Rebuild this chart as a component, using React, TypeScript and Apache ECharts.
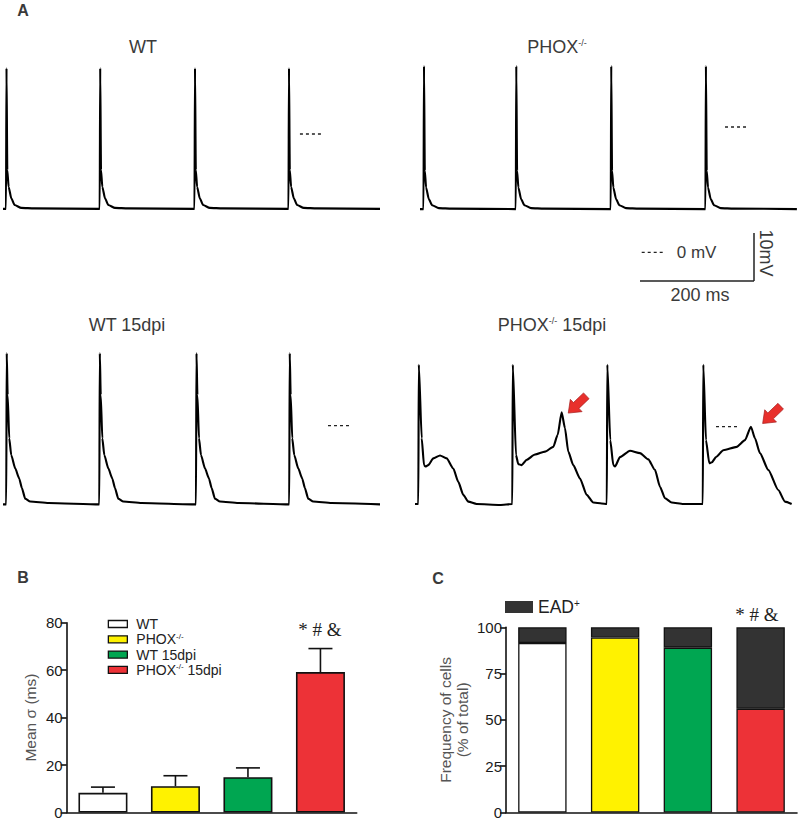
import React, { useEffect, useRef } from "react";
import * as echarts from "echarts";

// ---------- scale (from the 200 ms / 10 mV scale bar) ----------
const PX_PER_MS = 114 / 200;
const PX_PER_MV = 48 / 10;

// ---------- Panel A: traces (time in ms, voltage in mV) ----------
// WT
const WT_START = 5.3;
const WT_END = 666.7;
const WT_BASE = -15.6;
const WT_ONSETS = [10.5, 174.9, 341.2, 506.1];
const WT_BEAT = [[0, -15.6], [0.9, 13.7], [2.3, -7.5], [4.6, -11.0], [9.3, -13.4], [15.1, -14.8], [26.8, -15.4], [49.6, -15.5]];
const WT_ZERO = [526.2, 564.8];

// PHOX-/-
const PHOX_START = 35.1;
const PHOX_END = 696.3;
const PHOX_BASE = -17.1;
const PHOX_ONSETS = [41.2, 203.1, 369.7, 535.8];
const PHOX_BEAT = [[0, -17.1], [0.9, 12.7], [2.3, -9.1], [4.6, -12.6], [9.3, -15.0], [15.1, -16.3], [26.8, -16.9], [49.6, -17.0]];
const PHOX_ZERO = [570.2, 608.8];

// WT 15dpi
const WT15_START = 5.3;
const WT15_END = 666.7;
const WT15_BASE = -16.4;
const WT15_ONSETS = [10.9, 174.2, 343.8, 507.4];
const WT15_BEAT = [[0, -16.4], [0.9, 15.1], [2.5, 6.4], [5.3, -2.6], [8.8, -6.1], [15.8, -8.9], [22.8, -11.0], [27.5, -13.0], [33.3, -15.2], [42.1, -15.8], [74.4, -16.1]];
const WT15_ZERO = [575.4, 617.5];

// PHOX-/- 15dpi (each beat read separately)
const PHOX15_START = 26.3;
const PHOX15_END = 687.1;
const PHOX15_BASE = -16.1;
const PHOX15_ONSETS = [32.1, 197.0, 362.8, 531.2];
const PHOX15_BEAT1 = [[0, -16.1], [0.9, 12.9], [6.0, -2.4], [10.0, -8.0], [12.6, -8.3], [17.5, -8.0], [26.3, -6.6], [38.1, -6.0], [49.8, -6.6], [61.4, -8.7], [70.2, -11.5], [78.9, -14.2], [87.7, -15.6], [102.4, -16.1], [143.3, -16.3]];
const PHOX15_BEAT2 = [[0, -16.1], [0.9, 12.9], [6.5, -5.9], [10.5, -7.8], [16.5, -8.0], [25.3, -6.9], [39.8, -5.8], [57.4, -5.2], [71.9, -4.2], [79.6, -1.7], [86.6, 3.0], [92.4, -0.3], [98.2, -5.2], [107.0, -8.0], [118.8, -10.8], [130.5, -14.2], [142.1, -15.8], [156.8, -16.0]];
const PHOX15_BEAT3 = [[0, -16.1], [0.9, 12.9], [6.1, -2.8], [11.4, -8.0], [14.4, -8.3], [23.2, -6.3], [40.7, -5.0], [58.2, -5.5], [72.8, -6.8], [84.5, -9.0], [93.3, -12.5], [102.1, -14.9], [113.8, -15.8], [134.2, -16.1]];
const PHOX15_BEAT4 = [[0, -16.1], [0.9, 12.9], [5.6, -2.8], [11.4, -7.6], [16.1, -7.4], [23.2, -6.3], [36.0, -4.9], [59.5, -4.2], [74.0, -2.8], [84.5, 0], [91.5, -2.4], [100.3, -5.5], [114.9, -9.0], [132.4, -13.2], [144.2, -15.6], [155.9, -16.1]];
const PHOX15_ZERO = [554.4, 591.7];
// EAD peaks marked by red arrows [time ms, mV]
const EAD_PEAKS = [[283.6, 3.0], [615.7, 0]];

// ---------- Panel B ----------
const CATEGORIES = ["WT", "PHOX-/-", "WT 15dpi", "PHOX-/- 15dpi"];
const MEAN_SIGMA = [8.3, 11.1, 14.9, 59.2];
const SEM_SIGMA = [2.4, 4.4, 3.9, 9.9];
const B_TICKS = { min: 0, max: 80, interval: 20 };

// ---------- Panel C ----------
const NON_EAD = [91.5, 94.5, 89, 56];
const EAD_POS = [8.5, 5.5, 11, 44];
const C_TICKS = { min: 0, max: 100, interval: 25 };

const COLORS = ["#FFFFFF", "#FFF200", "#00A651", "#ED3237"];
const EAD_COLOR = "#333333";
const FONT = '"Liberation Sans", Arial, sans-serif';
const SERIF = '"Liberation Serif", "Times New Roman", serif';

const TRACE_GRIDS = [
  { left: 0, top: 50, width: 400, height: 180, zeroY: 134 },
  { left: 400, top: 50, width: 400, height: 180, zeroY: 127 },
  { left: 0, top: 340, width: 400, height: 180, zeroY: 425.7 },
  { left: 400, top: 340, width: 400, height: 180, zeroY: 426.7 },
];

function buildTrace(start: number, end: number, base: number, onsets: number[], beats: number[][][]) {
  const pts: number[][] = [[start, base]];
  onsets.forEach((o, i) => {
    beats[i].forEach(([t, v]) => pts.push([o + t, v]));
  });
  pts.push([end, base]);
  return pts;
}

function txt(id: string, text: string, x: number, y: number, size: number, opts: any = {}) {
  return {
    type: "text",
    id,
    x,
    y,
    rotation: opts.rotation || 0,
    style: {
      text,
      font: `${opts.bold ? "bold " : ""}${size}px ${opts.family || FONT}`,
      fill: opts.color || "#3a3a3a",
      align: opts.align || "center",
      textAlign: opts.align || "center",
      verticalAlign: "middle",
      textVerticalAlign: "middle",
      rich: opts.rich,
    },
  };
}

export default function App() {
  const ref = useRef<HTMLDivElement>(null);

  useEffect(() => {
    if (!ref.current) return;
    const chart = echarts.init(ref.current, null, { renderer: "svg" });

    const traces = [
      buildTrace(WT_START, WT_END, WT_BASE, WT_ONSETS, [WT_BEAT, WT_BEAT, WT_BEAT, WT_BEAT]),
      buildTrace(PHOX_START, PHOX_END, PHOX_BASE, PHOX_ONSETS, [PHOX_BEAT, PHOX_BEAT, PHOX_BEAT, PHOX_BEAT]),
      buildTrace(WT15_START, WT15_END, WT15_BASE, WT15_ONSETS, [WT15_BEAT, WT15_BEAT, WT15_BEAT, WT15_BEAT]),
      buildTrace(PHOX15_START, PHOX15_END, PHOX15_BASE, PHOX15_ONSETS, [PHOX15_BEAT1, PHOX15_BEAT2, PHOX15_BEAT3, PHOX15_BEAT4]),
    ];
    const zeros = [WT_ZERO, PHOX_ZERO, WT15_ZERO, PHOX15_ZERO];

    const grids: any[] = TRACE_GRIDS.map((g) => ({ left: g.left, top: g.top, width: g.width, height: g.height }));
    grids.push({ left: 66.7, top: 622.7, width: 290, height: 192.3 });
    grids.push({ left: 506, top: 627.3, width: 291, height: 185.4 });

    const xAxes: any[] = TRACE_GRIDS.map((g, i) => ({
      type: "value", gridIndex: i, show: false, min: 0, max: g.width / PX_PER_MS,
    }));
    const yAxes: any[] = TRACE_GRIDS.map((g, i) => ({
      type: "value", gridIndex: i, show: false,
      min: -(g.top + g.height - g.zeroY) / PX_PER_MV,
      max: (g.zeroY - g.top) / PX_PER_MV,
    }));

    const catAxis = (gi: number) => ({
      type: "category", gridIndex: gi, data: CATEGORIES,
      axisLine: { show: true, lineStyle: { color: "#111", width: 1.6 } },
      axisTick: { show: false }, axisLabel: { show: false }, splitLine: { show: false },
    });
    xAxes.push(catAxis(4));
    xAxes.push(catAxis(5));

    const valAxis = (gi: number, t: any, name: string, nameGap: number) => ({
      type: "value", gridIndex: gi, min: t.min, max: t.max, interval: t.interval,
      axisLine: { show: true, lineStyle: { color: "#111", width: 1.6 } },
      axisTick: { show: true, length: 6, lineStyle: { color: "#111", width: 1.6 } },
      axisLabel: { fontSize: 15, color: "#1a1a1a", margin: 4, fontFamily: FONT },
      splitLine: { show: false },
      name, nameLocation: "middle", nameGap,
      nameTextStyle: { fontSize: 15.5, color: "#555", fontFamily: FONT, lineHeight: 17 },
    });
    yAxes.push(valAxis(4, B_TICKS, "Mean σ (ms)", 27.5));
    yAxes.push(valAxis(5, C_TICKS, "Frequency of cells\n(% of total)", 35));

    const series: any[] = [];
    traces.forEach((data, i) => {
      series.push({
        type: "line", xAxisIndex: i, yAxisIndex: i, data, symbol: "none", silent: true,
        smooth: 0.2, smoothMonotone: "x",
        lineStyle: { color: "#000", width: 2.1 },
      });
      series.push({
        type: "line", xAxisIndex: i, yAxisIndex: i, symbol: "none", silent: true,
        data: [[zeros[i][0], 0], [zeros[i][1], 0]],
        lineStyle: { color: "#222", width: 1.3, type: [3, 3] },
      });
    });

    // red arrows at EAD peaks
    const ARROW_SHAPE = [[0, 0], [-11, -8.5], [-11, -4], [-25, -4], [-25, 4], [-11, 4], [-11, 8.5]];
    const ARROW_OFFSETS = [[6.6, 0.8], [11.7, -3.2]];
    series.push({
      type: "custom", xAxisIndex: 3, yAxisIndex: 3, silent: true, clip: false, z: 5,
      data: EAD_PEAKS,
      renderItem: (params: any, api: any) => {
        const p = api.coord([api.value(0), api.value(1)]);
        const off = ARROW_OFFSETS[params.dataIndex];
        const tip = [p[0] + off[0], p[1] + off[1]];
        const th = Math.atan2(0.69, -0.72);
        const c = Math.cos(th), s = Math.sin(th);
        const pts = ARROW_SHAPE.map(([x, y]) => [tip[0] + x * c - y * s, tip[1] + x * s + y * c]);
        return {
          type: "polygon",
          shape: { points: pts },
          style: { fill: "#E8302C", stroke: "#A51E1E", lineWidth: 0.7 },
        };
      },
    });

    // Panel B bars
    CATEGORIES.forEach((c, i) => {
      series.push({
        type: "bar", name: c, xAxisIndex: 4, yAxisIndex: 4,
        data: MEAN_SIGMA.map((v, j) => (j === i ? v : "-")),
        barWidth: 49, barGap: "-100%",
        itemStyle: { color: COLORS[i], borderColor: "#111", borderWidth: 1.6 },
      });
    });
    series.push({
      type: "custom", xAxisIndex: 4, yAxisIndex: 4, silent: true, z: 4,
      data: MEAN_SIGMA.map((m, i) => [i, m, SEM_SIGMA[i]]),
      renderItem: (params: any, api: any) => {
        const base = api.coord([api.value(0), api.value(1)]);
        const top = api.coord([api.value(0), api.value(1) + api.value(2)]);
        const st = { stroke: "#111", lineWidth: 1.6 };
        return {
          type: "group",
          children: [
            { type: "line", shape: { x1: base[0], y1: base[1], x2: top[0], y2: top[1] }, style: st },
            { type: "line", shape: { x1: top[0] - 12, y1: top[1], x2: top[0] + 12, y2: top[1] }, style: st },
          ],
        };
      },
    });

    // Panel C stacked bars
    series.push({
      type: "bar", name: "EAD-", xAxisIndex: 5, yAxisIndex: 5, stack: "c", barWidth: 48.4,
      data: NON_EAD.map((v, i) => ({ value: v, itemStyle: { color: COLORS[i] } })),
      itemStyle: { borderColor: "#111", borderWidth: 1.3 },
    });
    series.push({
      type: "bar", name: "EAD+", xAxisIndex: 5, yAxisIndex: 5, stack: "c", barWidth: 48.4,
      data: EAD_POS,
      itemStyle: { color: EAD_COLOR, borderColor: "#111", borderWidth: 1.3 },
    });

    const supRich = { sup: { fontSize: 8, verticalAlign: "top", lineHeight: 12, fontFamily: FONT, color: "#222" } };
    const scaleLen = 200 * PX_PER_MS;
    const scaleH = 10 * PX_PER_MV;
    const sbX = 754, sbY = 281;
    const titleSup = { s: { fontSize: 9, verticalAlign: "top", lineHeight: 18, fill: "#3a3a3a", fontFamily: FONT } };

    const graphic: any[] = [
      txt("lA", "A", 23, 10, 16, { bold: true }),
      txt("lB", "B", 23, 577, 16, { bold: true }),
      txt("lC", "C", 438, 578, 16, { bold: true }),
      txt("t1", "WT", 143, 47, 18),
      txt("t2", "PHOX{s|-/-}", 557, 47, 18, { rich: titleSup }),
      txt("t3", "WT 15dpi", 127, 325, 18),
      txt("t4", "PHOX{s|-/-} 15dpi", 552, 325, 18, { rich: titleSup }),
      { type: "line", shape: { x1: sbX - scaleLen, y1: sbY, x2: sbX, y2: sbY }, style: { stroke: "#222", lineWidth: 1.5 } },
      { type: "line", shape: { x1: sbX, y1: sbY - scaleH, x2: sbX, y2: sbY }, style: { stroke: "#222", lineWidth: 1.5 } },
      { type: "line", shape: { x1: 641.7, y1: 252.3, x2: 665, y2: 252.3 }, style: { stroke: "#222", lineWidth: 1.3, lineDash: [3, 3] } },
      txt("zmv", "0 mV", 676.7, 252.3, 17, { align: "left" }),
      txt("smv", "10mV", 766, 253, 18, { rotation: -Math.PI / 2 }),
      txt("sms", "200 ms", 700, 295, 18),
      txt("sigB", "* # &", 320, 629, 19, { family: SERIF, color: "#222" }),
      txt("sigC", "* # &", 757, 614, 19, { family: SERIF, color: "#222" }),
    ];

    chart.setOption({
      animation: false,
      textStyle: { fontFamily: FONT },
      grid: grids,
      xAxis: xAxes,
      yAxis: yAxes,
      legend: [
        {
          data: CATEGORIES, orient: "vertical", left: 107.7, top: 617, padding: 0,
          itemWidth: 19, itemHeight: 7, itemGap: 1.3, icon: "rect", selectedMode: false,
          itemStyle: { borderColor: "#111", borderWidth: 1.3 },
          textStyle: { fontSize: 14, color: "#222", lineHeight: 14, padding: [0, 0, 0, 4], rich: supRich },
          formatter: (n: string) => n.replace("-/-", "{sup|-/-}"),
        },
        {
          data: ["EAD+"], left: 505, top: 598, padding: 0, itemWidth: 28, itemHeight: 12, icon: "rect",
          selectedMode: false, itemStyle: { borderWidth: 0 },
          textStyle: { fontSize: 17.5, color: "#222", rich: { sup: { fontSize: 10, verticalAlign: "top", lineHeight: 17, color: "#222" } } },
          formatter: () => "EAD{sup|+}",
        },
      ],
      series,
      graphic,
    });

    return () => chart.dispose();
  }, []);

  return <div ref={ref} style={{ position: "fixed", left: 0, top: 0, width: 800, height: 820, background: "#fff" }} />;
}
